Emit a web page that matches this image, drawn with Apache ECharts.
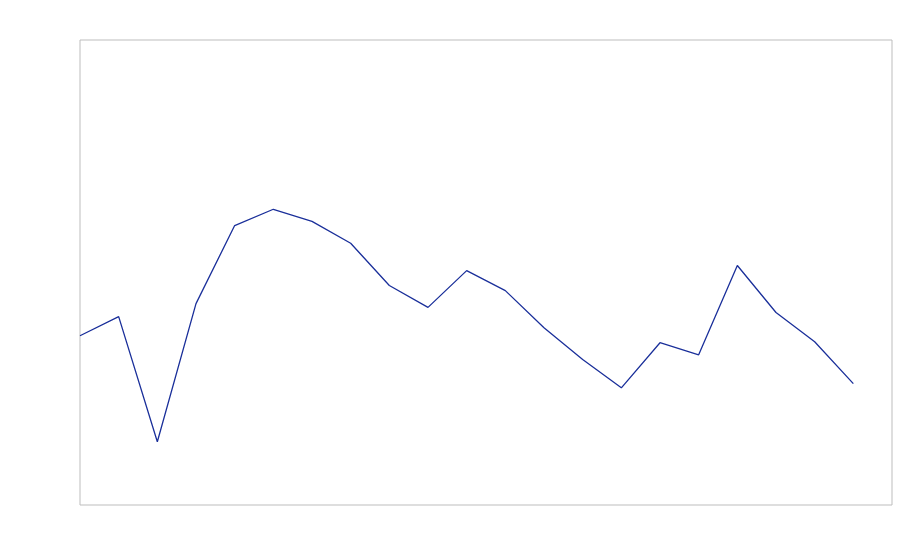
<!DOCTYPE html>
<html>
<head>
<meta charset="utf-8">
<script src="https://cdn.jsdelivr.net/npm/echarts@6/dist/echarts.min.js"></script>
<style>html,body{margin:0;padding:0;background:#fff;}#c{width:900px;height:560px;}</style>
</head>
<body>
<div id="c"></div>
<script>
const categories = ['1','2','3','4','5','6','7','8','9','10','11','12','13','14','15','16','17','18','19','20','21','22'];
const values = [36.4, 40.5, 13.6, 43.3, 60.1, 63.6, 61.0, 56.3, 47.2, 42.5, 50.4, 46.1, 38.1, 31.3, 25.2, 34.9, 32.3, 51.5, 41.4, 35.1, 26.1, null];

const chart = echarts.init(document.getElementById('c'), null, {renderer: 'canvas'});
chart.setOption({
  animation: false,
  grid: {left: 80, right: 8, top: 40, bottom: 55, show: true, borderColor: '#bdbdbd', borderWidth: 1, containLabel: false},
  xAxis: {type: 'category', data: categories, boundaryGap: false, show: false},
  yAxis: {type: 'value', min: 0, max: 100, show: false},
  series: [{
    type: 'line',
    data: values,
    symbol: 'none',
    lineStyle: {color: '#1a2f9a', width: 1.3},
    itemStyle: {color: '#1a2f9a'}
  }]
});
</script>
</body>
</html>
